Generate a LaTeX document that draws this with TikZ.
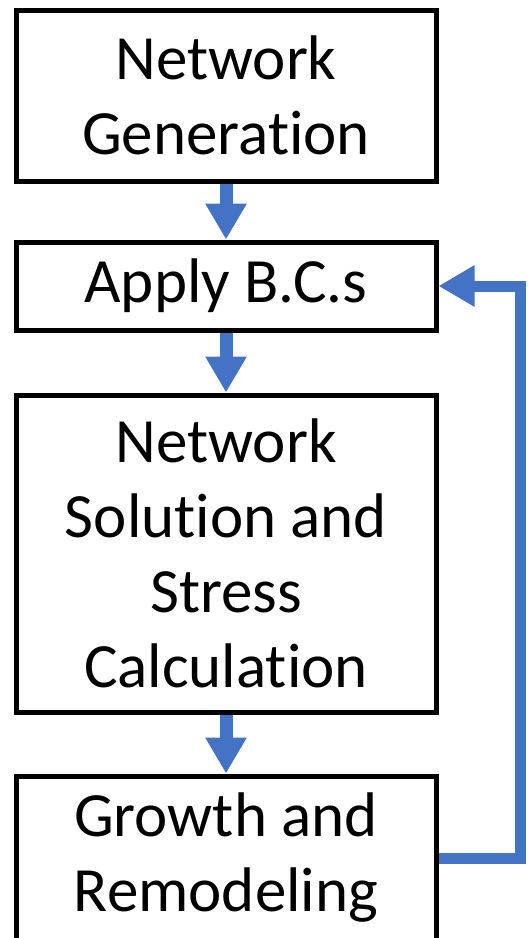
\documentclass[tikz,border=0pt]{standalone}
\usepackage{fontspec}
\setmainfont{Carlito}[Ligatures={NoCommon,NoRare,NoContextual}]
\usetikzlibrary{arrows.meta}
\definecolor{flowblue}{HTML}{4472C4}
\begin{document}
\begin{tikzpicture}[x=1pt,y=-1pt,
  box/.style={draw=black, line width=5pt, rectangle, inner sep=0pt,
    minimum width=420pt, align=center,
    font=\fontsize{63}{75}\selectfont},
  flow/.style={draw=flowblue, line width=13pt,
    -{Triangle[width=39pt,length=36pt]}},
  back/.style={draw=flowblue, line width=11pt, line join=miter,
    -{Triangle[width=39pt,length=36pt]}}]
\useasboundingbox (0,0) rectangle (530,938);
\node[box, minimum height=171pt] (gen) at (226,95.5) {Network\\Generation};
\node[box, minimum height=88pt] (bcs) at (226,286) {Apply B.C.s};
\node[box, minimum height=317pt] (sol) at (226,553.5) {Network\\Solution and\\Stress\\Calculation};
\node[box, minimum height=164pt] (grow) at (226,858) {Growth and\\Remodeling};
\draw[flow] (gen) -- (bcs);
\draw[flow] (bcs) -- (sol);
\draw[flow] (sol) -- (grow);
\draw[back] (grow.east) -- ++(82,0) |- (bcs.east);
\end{tikzpicture}
\end{document}
